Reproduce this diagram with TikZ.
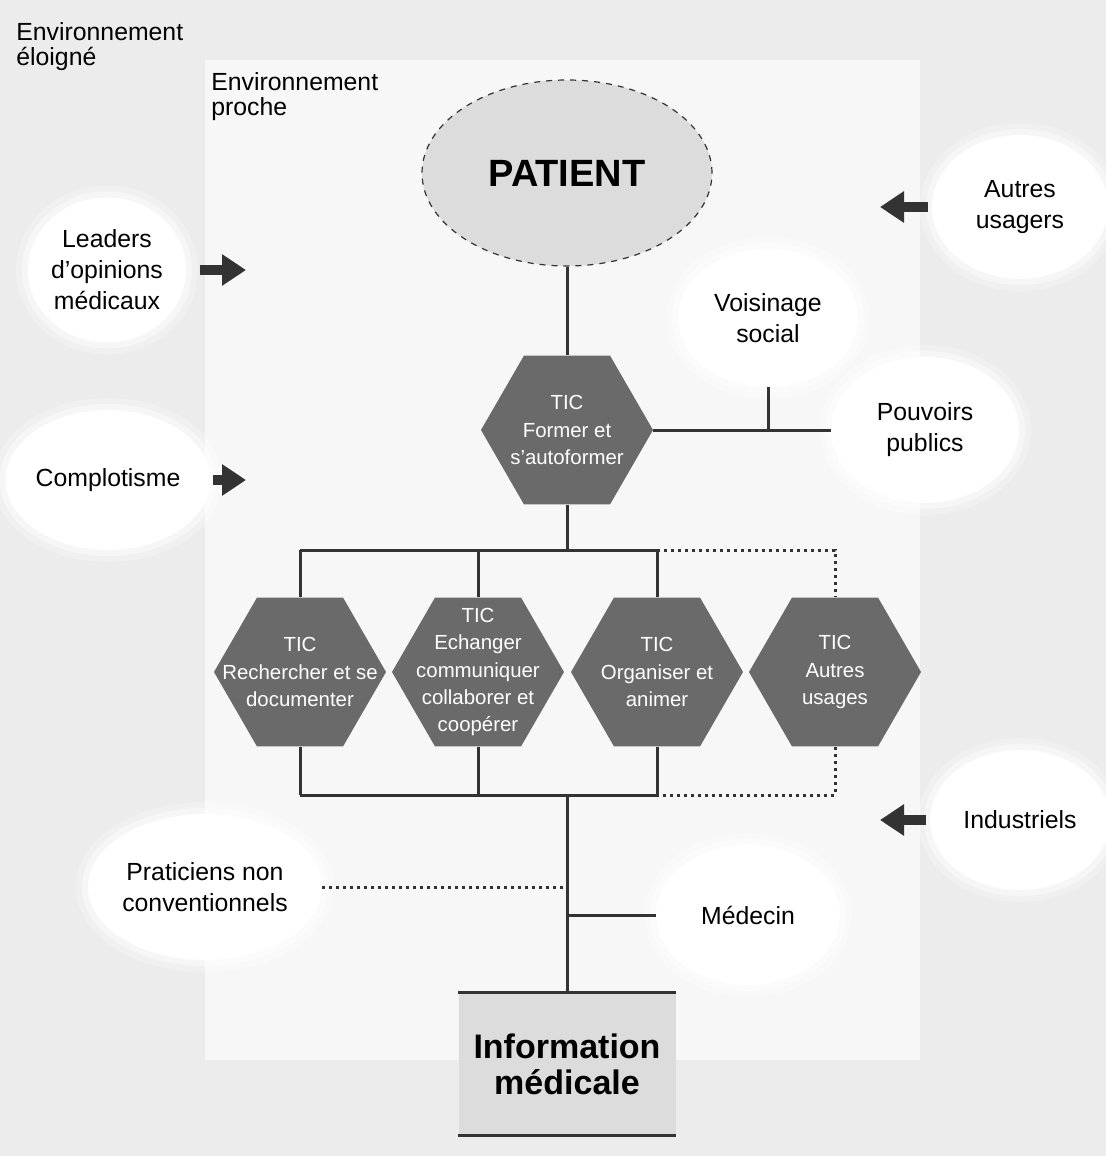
\documentclass[tikz,border=0pt]{standalone}
\usepackage{fontspec}
\setmainfont{Liberation Sans}
\usetikzlibrary{positioning,arrows.meta,shapes.geometric}
\definecolor{outergray}{HTML}{ECECEC}
\definecolor{innergray}{HTML}{F7F7F7}
\definecolor{hexgray}{HTML}{6A6A6A}
\definecolor{linegray}{HTML}{333333}
\definecolor{boxgray}{HTML}{DCDCDC}
\newcommand{\labelfont}{\fontsize{12.4}{15.5}\selectfont}
\newcommand{\hexfont}{\fontsize{10.2}{13.7}\selectfont}
\tikzset{
  blob/.style={ellipse, fill=white, inner sep=0pt, align=center,
    preaction={draw=white, draw opacity=0.25, line width=12pt},
    preaction={draw=white, draw opacity=0.45, line width=6pt}},
  hexa/.style={regular polygon, regular polygon sides=6, fill=hexgray, minimum size=86pt, inner sep=0pt},
  hextext/.style={text=white, align=center, font=\hexfont, inner sep=0pt},
  link/.style={draw=linegray, line width=1.5pt},
  dotlink/.style={draw=linegray, line width=1.5pt, dotted},
  pusharrow/.style={-{Triangle[length=12pt, width=15pt]}, line width=5pt, draw=linegray},
  envlabel/.style={anchor=north west, align=left, inner sep=0pt, font=\fontsize{12.4}{12.8}\selectfont}
}

\begin{document}
\begin{tikzpicture}[x=0.5pt, y=-0.5pt, every node/.style={font=\labelfont}]
  \useasboundingbox (0,0) rectangle (1106,1156);
  % zones
  \fill[outergray] (0,0) rectangle (1106,1156);
  \fill[innergray] (205,60) rectangle (920,1060);
  \node[envlabel] (far) at (16,22) {Environnement\\éloigné};
  \node[envlabel] (near) at (211,72) {Environnement\\proche};

  % centre
  \node[ellipse, draw=linegray, dashed, line width=0.6pt, fill=boxgray, minimum width=145pt, minimum height=93pt,
    font=\fontsize{19}{22}\selectfont\bfseries] (pat) at (567,173) {PATIENT};
  \node[hexa] (hform) at (567,430) {};
  \node[hextext] (hformtxt) at (hform) {TIC\\Former et\\s'autoformer};

  \node[hexa] (hdoc) at (300,672) {};
  \node[hexa] (hech) at (478,672) {};
  \node[hexa] (horg) at (657,672) {};
  \node[hexa] (haut) at (835,672) {};
  \node[hextext] (hdoctxt) at (hdoc) {TIC\\Rechercher et se\\documenter};
  \node[hextext] (hechtxt) at (hech) {TIC\\Echanger\\communiquer\\collaborer et\\coopérer};
  \node[hextext] (horgtxt) at (horg) {TIC\\Organiser et\\animer};
  \node[hextext] (hauttxt) at (haut) {TIC\\Autres\\usages};

  \node[fill=boxgray, minimum width=108.5pt, minimum height=71pt,
    font=\fontsize{17}{18}\selectfont\bfseries, align=center] (info) at (567,1064) {Information\\médicale};
  \draw[link] (info.north west) -- (info.north east);
  \draw[link] (info.south west) -- (info.south east);

  % acteurs
  \node[blob, minimum width=77.5pt, minimum height=72.5pt] (leaders) at (107,270) {Leaders\\d'opinions\\médicaux};
  \node[blob, minimum width=88pt, minimum height=70pt] (complot) at (108,480) {Complotisme};
  \node[blob, minimum width=88pt, minimum height=72pt] (autres) at (1020,207) {Autres\\usagers};
  \node[blob, minimum width=90pt, minimum height=69pt] (vois) at (768,318) {Voisinage\\social};
  \node[blob, minimum width=94pt, minimum height=73pt] (pouv) at (925,430) {Pouvoirs\\publics};
  \node[blob, minimum width=90pt, minimum height=70pt] (indus) at (1020,820) {Industriels};
  \node[blob, minimum width=90pt, minimum height=73pt] (prat) at (205,887) {Praticiens non\\conventionnels};
  \node[blob, minimum width=92pt, minimum height=70pt] (med) at (748,915) {Médecin};

  % fleches
  \coordinate (leadtip) at (246,270);
  \coordinate (comptip) at (246,480);
  \coordinate (autrtip) at (880,207);
  \coordinate (indutip) at (880,820);
  \draw[pusharrow] ([xshift=7pt]leaders.east) -- (leadtip);
  \draw[pusharrow] ([xshift=1pt]complot.east) -- (comptip);
  \draw[pusharrow] ([xshift=-2pt]autres.west) -- (autrtip);
  \draw[pusharrow] ([xshift=-2pt]indus.west) -- (indutip);

  % liaisons
  \coordinate (busT) at (567,550);
  \coordinate (busB) at (567,795);
  \draw[link] (pat.south) -- (hform.north);
  \draw[link] (hform.east) -- (pouv.west);
  \draw[link] (vois.south) -- (vois.south |- hform.east);
  \draw[link] (hform.south) -- (busT);
  \draw[link] (hdoc.north |- busT) -- (horg.north |- busT);
  \draw[link] (hdoc.south |- busB) -- (horg.south |- busB);
  \foreach \h in {hdoc,hech,horg}{
    \draw[link] (\h.north |- busT) -- (\h.north);
    \draw[link] (\h.south) -- (\h.south |- busB);
  }
  \draw[dotlink] (horg.north |- busT) -| (haut.north);
  \draw[dotlink] (haut.south) |- (horg.south |- busB);
  \draw[link] (busB) -- (info.north);
  \draw[link] (busB |- med.west) -- (med.west);
  \draw[dotlink] (prat.east) -- (prat.east -| busB);
\end{tikzpicture}
\end{document}
